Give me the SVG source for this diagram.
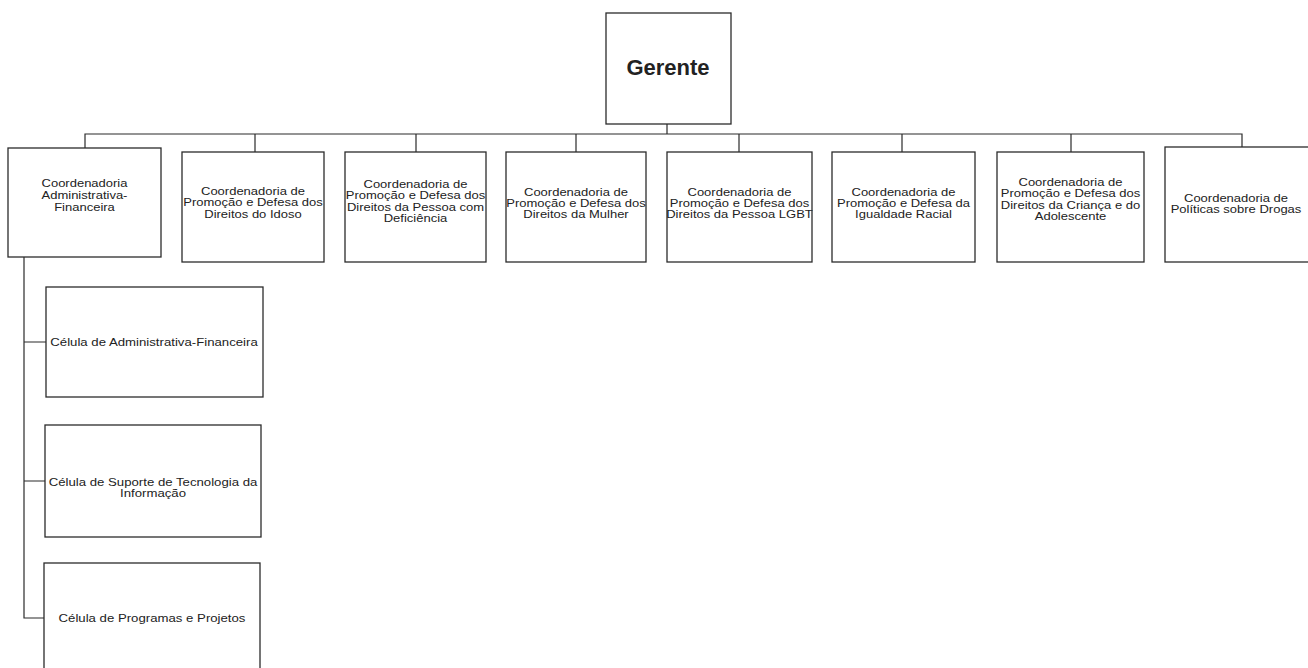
<svg xmlns="http://www.w3.org/2000/svg" width="1308" height="668" viewBox="0 0 1308 668">
<style>
.box{fill:#fff;stroke:#2b2b2b;stroke-width:1.3}
.ln{fill:none;stroke:#2b2b2b;stroke-width:1.2}
.t{font-family:"Liberation Sans",Arial,sans-serif;font-size:13px;fill:#222;text-anchor:middle}
.c{font-family:"Liberation Sans",Arial,sans-serif;font-size:13.2px;fill:#222;text-anchor:middle}
.g{font-family:"Liberation Sans",Arial,sans-serif;font-size:22px;font-weight:bold;fill:#222;text-anchor:middle}
</style>
<rect width="1308" height="668" fill="#fff"/>
<g id="connectors">
<path class="ln" d="M667 124V134M85 148V134H1242V147"/>
<path class="ln" d="M255 134V152M416 134V152M576 134V152M739 134V152M902 134V152M1071 134V152"/>
<path class="ln" d="M24 257V618H45M24 342H46M24 481H45"/>
</g>
<g id="gerente"><rect class="box" x="606" y="13" width="125" height="111"/><text class="g" x="668" y="75">Gerente</text></g>
<g id="n1"><rect class="box" x="8" y="148" width="153" height="109"/><text class="t" transform="translate(84.5,187) scale(1,0.88)"><tspan x="0" y="0">Coordenadoria</tspan><tspan x="0" y="13.6">Administrativa-</tspan><tspan x="0" y="27.2">Financeira</tspan></text></g>
<g id="n2"><rect class="box" x="182" y="152" width="142" height="110"/><text class="t" transform="translate(253,195) scale(1,0.88)"><tspan x="0" y="0">Coordenadoria de</tspan><tspan x="0" y="12.8">Promoção e Defesa dos</tspan><tspan x="0" y="25.6">Direitos do Idoso</tspan></text></g>
<g id="n3"><rect class="box" x="345" y="152" width="141" height="110"/><text class="t" transform="translate(415.5,188) scale(1,0.88)"><tspan x="0" y="0">Coordenadoria de</tspan><tspan x="0" y="12.9">Promoção e Defesa dos</tspan><tspan x="0" y="25.8">Direitos da Pessoa com</tspan><tspan x="0" y="38.7">Deficiência</tspan></text></g>
<g id="n4"><rect class="box" x="506" y="152" width="140" height="110"/><text class="t" transform="translate(576,196) scale(1,0.88)"><tspan x="0" y="0">Coordenadoria de</tspan><tspan x="0" y="12.7">Promoção e Defesa dos</tspan><tspan x="0" y="25.4">Direitos da Mulher</tspan></text></g>
<g id="n5"><rect class="box" x="667" y="152" width="145" height="110"/><text class="t" transform="translate(739.5,196) scale(1,0.88)"><tspan x="0" y="0">Coordenadoria de</tspan><tspan x="0" y="12.7">Promoção e Defesa dos</tspan><tspan x="0" y="25.4">Direitos da Pessoa LGBT</tspan></text></g>
<g id="n6"><rect class="box" x="832" y="152" width="143" height="110"/><text class="t" transform="translate(903.5,196) scale(1,0.88)"><tspan x="0" y="0">Coordenadoria de</tspan><tspan x="0" y="12.7">Promoção e Defesa da</tspan><tspan x="0" y="25.4">Igualdade Racial</tspan></text></g>
<g id="n7"><rect class="box" x="997" y="152" width="147" height="110"/><text class="t" transform="translate(1070.5,186) scale(1,0.88)"><tspan x="0" y="0">Coordenadoria de</tspan><tspan x="0" y="13">Promoção e Defesa dos</tspan><tspan x="0" y="26">Direitos da Criança e do</tspan><tspan x="0" y="39">Adolescente</tspan></text></g>
<g id="n8"><rect class="box" x="1165" y="147" width="150" height="115"/><text class="t" transform="translate(1236,202) scale(1,0.88)"><tspan x="0" y="0">Coordenadoria de</tspan><tspan x="0" y="12">Políticas sobre Drogas</tspan></text></g>
<g id="c1"><rect class="box" x="46" y="287" width="217" height="110"/><text class="c" transform="translate(154,346) scale(1,0.88)">Célula de Administrativa-Financeira</text></g>
<g id="c2"><rect class="box" x="45" y="425" width="216" height="112"/><text class="c" transform="translate(153,486) scale(1,0.88)"><tspan x="0" y="0">Célula de Suporte de Tecnologia da</tspan><tspan x="0" y="12.5">Informação</tspan></text></g>
<g id="c3"><rect class="box" x="44" y="563" width="216" height="120"/><text class="c" transform="translate(152,622) scale(1,0.88)">Célula de Programas e Projetos</text></g>
</svg>
